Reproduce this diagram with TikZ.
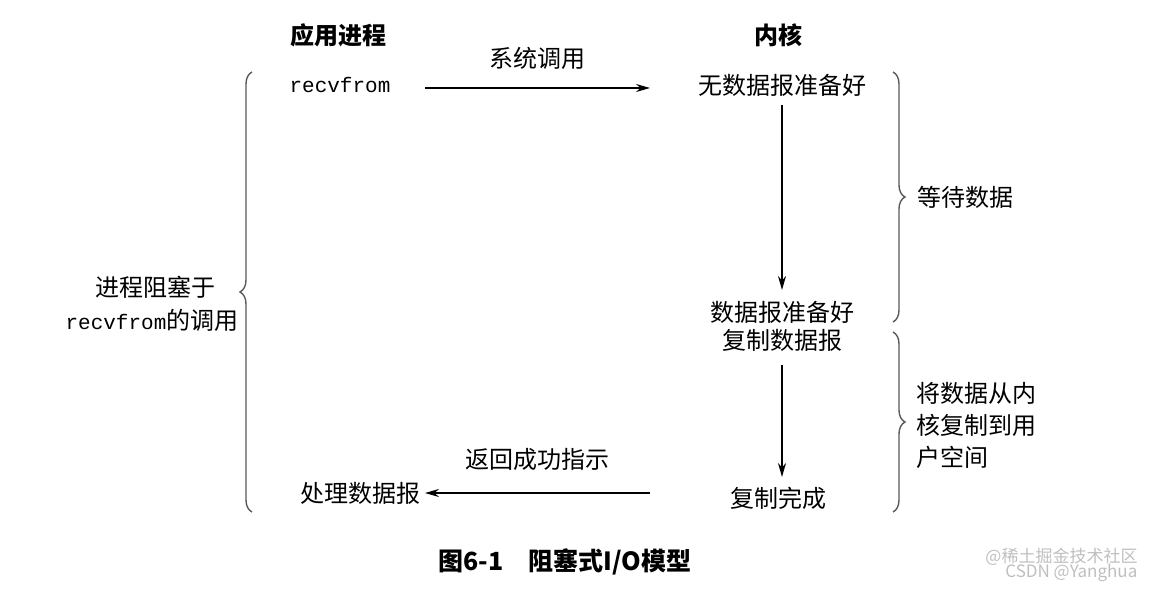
\documentclass[tikz,border=0pt]{standalone}
\usepackage{fontspec}
\newfontfamily\cjk{Noto Sans CJK SC}
\setmonofont{Liberation Mono}
\usetikzlibrary{decorations.pathreplacing,arrows.meta}
\begin{document}
\begin{tikzpicture}[x=0.5pt,y=-0.5pt,
  txt/.style={font=\cjk\fontsize{12}{14}\selectfont,inner sep=0pt},
  hd/.style={font=\cjk\bfseries\fontsize{12}{14}\selectfont,inner sep=0pt},
  mono/.style={font=\ttfamily\fontsize{10.5}{12}\selectfont,inner sep=0pt},
  arr/.style={-{Stealth[length=7pt,width=4pt]},line width=0.8pt},
  br/.style={decorate,decoration={brace,amplitude=6pt},line width=0.7pt,gray!70!black}]
\useasboundingbox (0,0) rectangle (1165,588);
\node[hd] (h1) at (338,35) {应用进程};
\node[hd] (h2) at (778,35) {内核};
\node[mono] (rf) at (340,85) {recvfrom};
\node[txt] (k1) at (782,85) {无数据报准备好};
\node[txt] (k2) at (782,312) {数据报准备好};
\node[txt] (k3) at (782,340) {复制数据报};
\node[txt] (k4) at (778,498) {复制完成};
\node[txt] (p) at (360,493) {处理数据报};
\coordinate (a1) at (425,88); \coordinate (b1) at (650,88);
\draw[arr] (a1) -- node[txt,above=9pt] {系统调用} (b1);
\coordinate (a2) at (650,493); \coordinate (b2) at (425,493);
\draw[arr] (a2) -- node[txt,above=11pt] {返回成功指示} (b2);
\draw[arr] (782,105) -- (782,290);
\draw[arr] (782,365) -- (782,477);
\draw[br] (252,512) -- (252,72);
\node[txt] at (155,287) {进程阻塞于};
\node[inner sep=0pt] at (152,320) {\ttfamily\fontsize{10.5}{12}\selectfont recvfrom\cjk\fontsize{12}{14}\selectfont 的调用};
\draw[br] (893,72) -- (893,322);
\node[txt] at (965,197) {等待数据};
\draw[br] (893,332) -- (893,512);
\node[txt,anchor=west] at (916,393) {将数据从内};
\node[txt,anchor=west] at (916,425) {核复制到用};
\node[txt,anchor=west] at (916,457) {户空间};
\node[font=\cjk\bfseries\fontsize{12.5}{14}\selectfont,inner sep=0pt] at (565,562) {图6-1\quad 阻塞式I/O模型};
\node[font=\cjk\fontsize{8.5}{10}\selectfont,gray!50,inner sep=0pt,anchor=west] at (985,557) {@稀土掘金技术社区};
\node[font=\cjk\fontsize{8.5}{10}\selectfont,gray!50,inner sep=0pt,anchor=west] at (1005,573) {CSDN @Yanghua};
\end{tikzpicture}
\end{document}
